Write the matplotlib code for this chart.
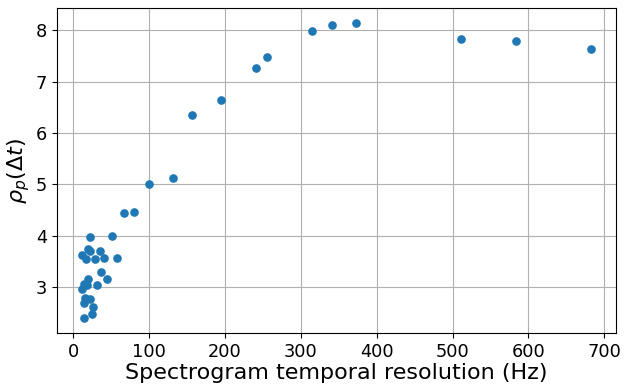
import matplotlib
matplotlib.use("Agg")
import matplotlib.pyplot as plt

# temporal resolution (Hz) and measured rho_p(dt)
resolution_hz = [682, 584, 511, 373, 341, 314.5, 256, 240.6, 195, 157,
                 132, 100, 80.7, 67.5, 51.7, 58, 21.6, 34.8, 19.5, 22.7,
                 12.1, 16.9, 28.5, 41.2, 37, 45, 19, 31.7, 18.5, 14.2,
                 12.1, 15.8, 21.6, 16.9, 14.8, 26.4, 24.3, 14.8]
rho_p = [7.63, 7.79, 7.83, 8.14, 8.10, 7.98, 7.48, 7.27, 6.65, 6.36,
         5.12, 5.00, 4.47, 4.45, 4.00, 3.58, 3.98, 3.71, 3.75, 3.70,
         3.62, 3.55, 3.56, 3.58, 3.29, 3.17, 3.17, 3.04, 3.05, 3.06,
         2.96, 2.80, 2.77, 2.77, 2.69, 2.62, 2.49, 2.40]

fig, ax = plt.subplots(figsize=(6.26, 3.89), dpi=100)
fig.subplots_adjust(left=0.091, right=0.984, bottom=0.144, top=0.979)

ax.scatter(resolution_hz, rho_p, s=27, color="#1f77b4", zorder=3)
ax.grid(True, color="#b0b0b0", linewidth=0.8)
ax.set_axisbelow(True)

ax.set_xticks([0, 100, 200, 300, 400, 500, 600, 700])
ax.set_yticks([3, 4, 5, 6, 7, 8])
ax.tick_params(labelsize=12.8)
ax.set_xlabel("Spectrogram temporal resolution (Hz)", fontsize=16, labelpad=2)
ax.set_ylabel(r"$\rho_p(\Delta t)$", fontsize=16, labelpad=3)

fig.savefig("out.png", dpi=100)
